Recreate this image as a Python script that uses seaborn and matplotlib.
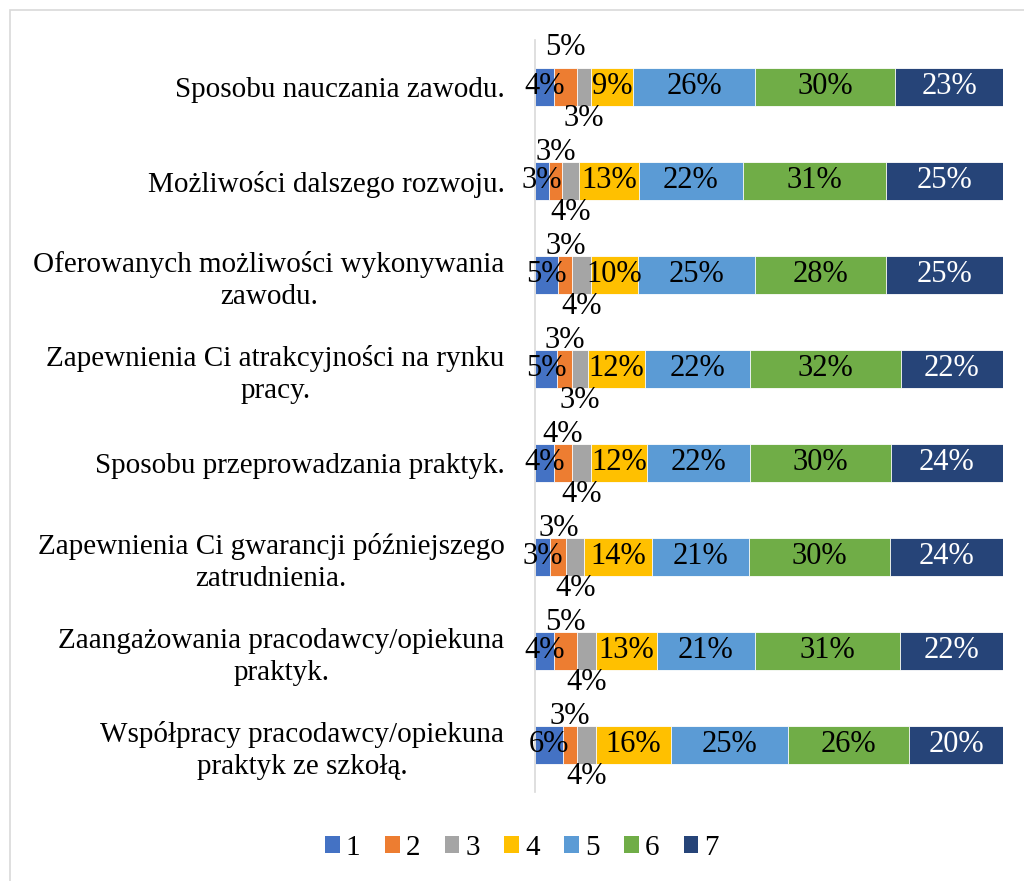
import numpy as np
import pandas as pd
import matplotlib
matplotlib.use("Agg")
import matplotlib.pyplot as plt
import seaborn as sns
from matplotlib.patches import Rectangle, Patch

# Categories (top to bottom)
categories = [
    "Sposobu nauczania zawodu.",
    "Możliwości dalszego rozwoju.",
    "Oferowanych możliwości wykonywania\nzawodu.",
    "Zapewnienia Ci atrakcyjności na rynku\npracy.",
    "Sposobu przeprowadzania praktyk.",
    "Zapewnienia Ci gwarancji późniejszego\nzatrudnienia.",
    "Zaangażowania pracodawcy/opiekuna\npraktyk.",
    "Współpracy pracodawcy/opiekuna\npraktyk ze szkołą.",
]

# Share of answers (%) per rating 1..7 (labels are rounded)
s1 = [4, 3.0, 5, 4.7, 4, 3.3, 4, 6]
s2 = [5, 2.8, 3, 3.2, 4, 3.4, 5, 3]
s3 = [3, 3.6, 4, 3.4, 4, 3.8, 4, 4]
s4 = [9, 12.8, 10, 12.2, 12, 14.4, 13, 16]
s5 = [26, 22.2, 25, 22.4, 22, 20.9, 21, 25]
s6 = [30, 30.6, 28, 32.3, 30, 30.1, 31, 26]
s7 = [23, 25.0, 25, 21.8, 24, 24.1, 22, 20]

series_names = ["1", "2", "3", "4", "5", "6", "7"]
colors = ["#4472C4", "#ED7D31", "#A5A5A5", "#FFC000", "#5B9BD5", "#70AD47", "#264478"]

df = pd.DataFrame(dict(zip(series_names, [s1, s2, s3, s4, s5, s6, s7])), index=categories)
cum = df.cumsum(axis=1)

sns.set_style("white")
plt.rcParams["font.family"] = ["Liberation Serif", "DejaVu Serif"]
plt.rcParams["text.color"] = "black"

fig = plt.figure(figsize=(10.24, 8.81), dpi=100)
ax = fig.add_axes([535 / 1024, 1 - 792 / 881, (1003 - 535) / 1024, 752 / 881])

# stacked bars: draw cumulative totals from last series to first
for name, col in zip(reversed(series_names), reversed(colors)):
    sns.barplot(x=cum[name].values, y=categories, orient="h", color=col,
                width=0.4, edgecolor="white", linewidth=0.6, ax=ax, saturation=1)

ax.set_xlim(0, 100)
ax.set_ylim(7.5, -0.5)
ax.set_xticks([])
ax.set_xlabel("")
ax.set_ylabel("")
for sp in ["top", "right", "bottom"]:
    ax.spines[sp].set_visible(False)
ax.spines["left"].set_color("#d9d9d9")
ax.spines["left"].set_linewidth(1.2)
ax.tick_params(axis="y", length=0, pad=22, colors="black")
ax.set_yticks(range(len(categories)))
ax.set_yticklabels(categories, fontsize=21, ma="center", linespacing=1.3)

# data labels: series 2 above the bar, series 3 below, others centred
fs = 22
for i, cat in enumerate(categories):
    left = 0
    for j, name in enumerate(series_names):
        v = df.loc[cat, name]
        cx = left + v / 2
        lab = f"{v:.0f}%"
        if j == 1:
            dy = -0.42 if i == 0 else -0.3
            ax.text(cx, i + dy, lab, ha="center", va="center", fontsize=fs, color="black")
        elif j == 2:
            ax.text(cx, i + 0.33, lab, ha="center", va="center", fontsize=fs, color="black")
        else:
            c = "white" if j == 6 else "black"
            ax.text(cx, i, lab, ha="center", va="center", fontsize=fs, color=c)
        left += v

handles = [Patch(facecolor=c, edgecolor="none") for c in colors]
fig.legend(handles, series_names, loc="center", bbox_to_anchor=(522 / 1024, 1 - 848 / 881),
           ncol=7, frameon=False, fontsize=21, handlelength=0.5, handleheight=0.5,
           columnspacing=0.85, handletextpad=0.2)

# outer chart border
fig.patches.append(Rectangle((10 / 1024, -0.1), 1.2, 1 - 10 / 881 + 0.1,
                             transform=fig.transFigure, fill=False,
                             edgecolor="#d9d9d9", linewidth=1.2))

fig.savefig("out.png", dpi=100)
